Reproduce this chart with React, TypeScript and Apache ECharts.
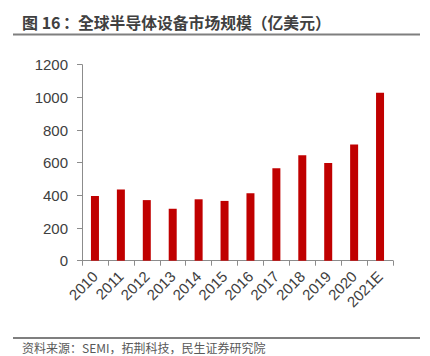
import React, { useEffect, useRef } from "react";
import * as echarts from "echarts";

const categories = ["2010", "2011", "2012", "2013", "2014", "2015", "2016", "2017", "2018", "2019", "2020", "2021E"];
const values = [396, 436, 371, 318, 376, 366, 413, 566, 645, 598, 712, 1029];
const yTicks = [0, 200, 400, 600, 800, 1000, 1200];
const titleLabel = "图 16";
const titleColon = "：";
const titleBody = "全球半导体设备市场规模（亿美元）";
const sourceText = "资料来源：SEMI，拓荆科技，民生证券研究院";

export default function App() {
  const ref = useRef<HTMLDivElement>(null);
  useEffect(() => {
    if (!ref.current) return;
    const chart = echarts.init(ref.current, null, { renderer: "svg" });
    const titleFont = 'bold 16px "Noto Sans CJK SC", sans-serif';
    chart.setOption({
      animation: false,
      backgroundColor: "#ffffff",
      graphic: [
        {
          type: "text",
          x: 22,
          y: 22,
          style: { text: titleLabel, font: titleFont, fill: "#404040", textVerticalAlign: "middle", textAlign: "left" },
        },
        {
          type: "text",
          x: 67,
          y: 22,
          style: { text: titleColon, font: 'bold 16px "Noto Sans CJK TC", sans-serif', fill: "#404040", textVerticalAlign: "middle", textAlign: "center" },
        },
        {
          type: "text",
          x: 78,
          y: 22,
          style: { text: titleBody, font: 'bold 15.8px "Noto Sans CJK TC", sans-serif', fill: "#404040", textVerticalAlign: "middle", textAlign: "left" },
        },
        {
          type: "line",
          shape: { x1: 13, y1: 34.5, x2: 420, y2: 34.5 },
          style: { stroke: "#7f7f7f", lineWidth: 2 },
        },
        {
          type: "line",
          shape: { x1: 13, y1: 338, x2: 420, y2: 338 },
          style: { stroke: "#7f7f7f", lineWidth: 2 },
        },
        {
          type: "text",
          left: 22,
          top: 341,
          style: {
            text: sourceText,
            font: '12px "Noto Sans CJK SC", sans-serif',
            fill: "#595959",
          },
        },
      ],
      grid: { left: 82, right: 37, top: 64.7, bottom: 95.3, containLabel: false },
      xAxis: {
        type: "category",
        data: categories,
        axisLine: { lineStyle: { color: "#8c8c8c", width: 1 } },
        axisTick: { show: true, alignWithLabel: false, length: 5, lineStyle: { color: "#8c8c8c" } },
        axisLabel: {
          rotate: 45,
          interval: 0,
          margin: 13,
          color: "#404040",
          fontSize: 15,
          fontFamily: '"Liberation Sans", Arial, sans-serif',
        },
      },
      yAxis: {
        type: "value",
        min: yTicks[0],
        max: yTicks[yTicks.length - 1],
        interval: 200,
        splitLine: { show: false },
        axisLine: { show: true, lineStyle: { color: "#8c8c8c", width: 1 } },
        axisTick: { show: true, length: 5, lineStyle: { color: "#8c8c8c" } },
        axisLabel: {
          margin: 14,
          color: "#404040",
          fontSize: 15,
          fontFamily: '"Liberation Sans", Arial, sans-serif',
          formatter: (v: number) => String(v),
        },
      },
      series: [
        {
          type: "bar",
          data: values,
          barWidth: 8,
          itemStyle: { color: "#c00000" },
        },
      ],
    });
    return () => chart.dispose();
  }, []);
  return <div ref={ref} style={{ width: 430, height: 356, position: "absolute", left: 0, top: 0 }} />;
}
